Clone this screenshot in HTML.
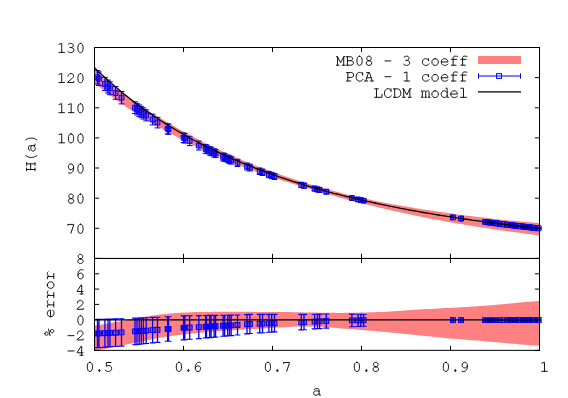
<!DOCTYPE html>
<html><head><meta charset="utf-8"><title>plot</title>
<style>
html,body{margin:0;padding:0;background:#fff;}
svg{display:block;}
</style></head>
<body>
<svg width="568" height="398" viewBox="0 0 568 398">
<rect width="568" height="398" fill="#fff"/>
<defs>
<clipPath id="cu"><rect x="94.5" y="47.5" width="445.0" height="210.95"/></clipPath>
<clipPath id="cl"><rect x="94.5" y="258.45" width="445.0" height="91.90000000000003"/></clipPath>
<path id="g37" d="M3.23,-9.00C2.29,-9.00 1.54,-8.25 1.54,-7.32C1.54,-6.39 2.29,-5.64 3.23,-5.64C4.16,-5.64 4.91,-6.39 4.91,-7.32C4.91,-8.25 4.16,-9.00 3.23,-9.00ZM5.77,-3.38C4.84,-3.38 4.09,-2.62 4.09,-1.69C4.09,-0.77 4.84,-0.01 5.77,-0.01C6.71,-0.01 7.46,-0.77 7.46,-1.69C7.46,-2.62 6.71,-3.38 5.77,-3.38ZM1.20,-3.75L7.80,-5.25"/><path id="g40" d="M6.15,-9.38C4.88,-7.80 4.27,-6.00 4.27,-3.75C4.27,-1.50 4.88,0.30 6.15,1.88"/><path id="g41" d="M2.85,-9.38C4.12,-7.80 4.72,-6.00 4.72,-3.75C4.72,-1.50 4.12,0.30 2.85,1.88"/><path id="g45" d="M1.50,-4.27H7.50"/><path id="g46" d="M4.50,-1.43C4.05,-1.43 3.67,-1.05 3.67,-0.60C3.67,-0.15 4.05,0.22 4.50,0.22C4.95,0.22 5.33,-0.15 5.33,-0.60C5.33,-1.05 4.95,-1.43 4.50,-1.43ZM4.50,-0.53V-0.67"/><path id="g48" d="M4.50,-9.05C2.62,-9.05 1.88,-6.98 1.88,-4.42C1.88,-1.86 2.62,0.22 4.50,0.22C6.38,0.22 7.12,-1.86 7.12,-4.42C7.12,-6.98 6.38,-9.05 4.50,-9.05Z"/><path id="g49" d="M1.88,0H7.42M4.65,0V-9.05L1.95,-8.18"/><path id="g50" d="M1.43,-6.40C1.43,-7.93 2.70,-9.05 4.35,-9.05C5.92,-9.05 7.05,-8.00 7.05,-6.62C7.05,-5.53 6.38,-4.80 5.10,-3.71L1.12,-0.36V0H7.27V-0.95"/><path id="g51" d="M1.80,-8.22C2.55,-8.80 3.38,-9.05 4.27,-9.05C5.77,-9.05 6.83,-8.15 6.83,-6.91C6.83,-5.67 5.85,-4.87 4.35,-4.87H3.38M4.35,-4.87C6.00,-4.87 7.35,-3.93 7.35,-2.40C7.35,-0.80 6.00,0.22 4.20,0.22C3.07,0.22 2.10,-0.22 1.35,-0.95"/><path id="g52" d="M5.70,0V-9.05H5.17L1.20,-2.84V-2.47H7.05M3.97,0H7.05"/><path id="g53" d="M6.75,-8.79H2.10V-4.95C2.92,-5.60 3.75,-5.82 4.58,-5.82C6.22,-5.82 7.35,-4.58 7.35,-2.91C7.35,-1.09 6.00,0.22 4.20,0.22C3.00,0.22 1.95,-0.22 1.12,-1.02"/><path id="g54" d="M7.20,-8.73C6.60,-8.95 6.00,-9.05 5.47,-9.05C3.38,-9.05 1.95,-6.98 1.95,-3.71C1.95,-1.31 3.00,0.22 4.65,0.22C6.15,0.22 7.27,-1.02 7.27,-2.69C7.27,-4.37 6.15,-5.53 4.65,-5.53C3.30,-5.53 2.25,-4.58 1.95,-3.27"/><path id="g55" d="M1.27,-7.78V-8.79H7.12V-8.29L4.42,0"/><path id="g56" d="M4.50,-4.51C3.07,-4.51 2.25,-5.53 2.25,-6.77C2.25,-8.08 3.15,-9.05 4.50,-9.05C5.85,-9.05 6.75,-8.08 6.75,-6.77C6.75,-5.53 5.92,-4.51 4.50,-4.51C2.92,-4.51 1.77,-3.49 1.77,-2.18C1.77,-0.80 2.92,0.22 4.50,0.22C6.08,0.22 7.23,-0.80 7.23,-2.18C7.23,-3.49 6.08,-4.51 4.50,-4.51Z"/><path id="g57" d="M1.88,-0.12C2.48,0.12 3.07,0.22 3.60,0.22C5.70,0.22 7.12,-1.82 7.12,-5.09C7.12,-7.57 6.08,-9.05 4.42,-9.05C2.92,-9.05 1.80,-7.86 1.80,-6.18C1.80,-4.51 2.92,-3.35 4.42,-3.35C5.77,-3.35 6.83,-4.29 7.12,-5.60"/><path id="g65" d="M0.15,0H3.23M5.77,0H8.85M1.20,0L4.05,-8.45M2.25,-8.45H5.02L7.83,0M2.28,-3.23H6.75"/><path id="g66" d="M0.60,-8.45H4.72C6.15,-8.45 6.97,-7.65 6.97,-6.52C6.97,-5.33 6.08,-4.50 4.72,-4.50H1.88M0.60,0H5.17C6.83,0 7.88,-0.90 7.88,-2.25C7.88,-3.60 6.83,-4.50 5.17,-4.50M1.88,-8.45V0"/><path id="g67" d="M7.57,-5.77V-8.45M7.57,-7.05C6.83,-8.10 5.85,-8.67 4.72,-8.67C2.55,-8.67 1.02,-6.75 1.02,-4.23C1.02,-1.65 2.55,0.22 4.80,0.22C6.15,0.22 7.20,-0.38 8.03,-1.57"/><path id="g68" d="M0.60,-8.45H4.50C6.60,-8.45 8.03,-6.75 8.03,-4.27C8.03,-1.72 6.60,0 4.50,0H0.60M1.88,-8.45V0"/><path id="g72" d="M0.45,-8.45H3.23M5.77,-8.45H8.55M0.45,0H3.23M5.77,0H8.55M1.68,-8.45V0M7.32,-8.45V0M1.68,-4.35H7.32"/><path id="g76" d="M0.67,-8.45H4.42M2.55,-8.45V0M0.67,0H8.03V-3.07"/><path id="g77" d="M0.22,0H3.00M6.00,0H8.78M0.22,-8.45H1.43V0M1.43,-8.45L4.50,-2.40L7.57,-8.45M8.78,-8.45H7.57V0"/><path id="g80" d="M0.97,-8.45H5.17C6.97,-8.45 8.03,-7.42 8.03,-6.00C8.03,-4.58 6.97,-3.52 5.17,-3.52H2.25M2.25,-8.45V0M0.97,0H5.10"/><path id="g97" d="M1.88,-5.62C2.77,-6.22 3.67,-6.55 4.50,-6.55C5.92,-6.55 6.67,-5.85 6.67,-4.65V0H8.17M6.67,-3.67C5.92,-4.02 5.02,-4.20 4.12,-4.20C2.25,-4.20 1.17,-3.30 1.17,-1.95C1.17,-0.67 2.25,0.22 3.60,0.22C4.80,0.22 5.92,-0.30 6.67,-1.27"/><path id="g99" d="M7.35,-4.35V-6.39M7.35,-5.02C6.60,-6.00 5.70,-6.55 4.65,-6.55C2.70,-6.55 1.27,-5.10 1.27,-3.15C1.27,-1.20 2.70,0.22 4.72,0.22C6.00,0.22 7.05,-0.30 7.88,-1.35"/><path id="g100" d="M5.77,-9.06H7.08V0H8.55M7.08,-4.50C6.63,-5.77 5.58,-6.55 4.30,-6.55C2.50,-6.55 1.12,-5.10 1.12,-3.15C1.12,-1.20 2.50,0.22 4.30,0.22C5.58,0.22 6.63,-0.60 7.08,-1.88"/><path id="g101" d="M1.20,-3.23H7.83C7.83,-5.17 6.45,-6.55 4.58,-6.55C2.62,-6.55 1.20,-5.10 1.20,-3.15C1.20,-1.20 2.62,0.22 4.65,0.22C6.00,0.22 7.05,-0.22 7.88,-1.12"/><path id="g102" d="M1.88,0H6.45M3.60,0V-7.20C3.60,-8.40 4.35,-9.06 5.55,-9.06C6.38,-9.06 7.12,-8.97 7.88,-8.82M1.88,-5.85H7.20"/><path id="g108" d="M1.88,-9.06H4.50V0M1.43,0H7.57"/><path id="g109" d="M0.15,-6.39H1.12V0M0.15,0H1.95M1.12,-5.17C1.50,-6.00 2.17,-6.55 2.92,-6.55C3.97,-6.55 4.50,-5.92 4.50,-4.80V0M3.67,0H5.33M4.50,-5.17C4.88,-6.00 5.55,-6.55 6.30,-6.55C7.35,-6.55 7.90,-5.92 7.90,-4.80V0M7.08,0H8.85"/><path id="g111" d="M4.50,-6.55C2.62,-6.55 1.23,-5.10 1.23,-3.17C1.23,-1.23 2.62,0.22 4.50,0.22C6.38,0.22 7.77,-1.23 7.77,-3.17C7.77,-5.10 6.38,-6.55 4.50,-6.55Z"/><path id="g114" d="M1.43,-6.39H3.60V0M1.43,0H6.67M3.60,-4.50C4.42,-5.85 5.47,-6.55 6.67,-6.55C7.42,-6.55 8.03,-6.22 8.32,-5.70"/>
</defs>
<!-- ticks (behind data) -->
<path d="M94.5,350.4v-4.6M94.5,258.4v4.6M94.5,258.4v-4.6M94.5,47.5v4.6M183.5,350.4v-4.6M183.5,258.4v4.6M183.5,258.4v-4.6M183.5,47.5v4.6M272.5,350.4v-4.6M272.5,258.4v4.6M272.5,258.4v-4.6M272.5,47.5v4.6M361.5,350.4v-4.6M361.5,258.4v4.6M361.5,258.4v-4.6M361.5,47.5v4.6M450.5,350.4v-4.6M450.5,258.4v4.6M450.5,258.4v-4.6M450.5,47.5v4.6M539.5,350.4v-4.6M539.5,258.4v4.6M539.5,258.4v-4.6M539.5,47.5v4.6M94.5,228.3h4.6M539.5,228.3h-4.6M94.5,198.2h4.6M539.5,198.2h-4.6M94.5,168.0h4.6M539.5,168.0h-4.6M94.5,137.9h4.6M539.5,137.9h-4.6M94.5,107.8h4.6M539.5,107.8h-4.6M94.5,77.6h4.6M539.5,77.6h-4.6M94.5,47.5h4.6M539.5,47.5h-4.6M94.5,350.4h4.6M539.5,350.4h-4.6M94.5,335.0h4.6M539.5,335.0h-4.6M94.5,319.7h4.6M539.5,319.7h-4.6M94.5,304.4h4.6M539.5,304.4h-4.6M94.5,289.1h4.6M539.5,289.1h-4.6M94.5,273.8h4.6M539.5,273.8h-4.6M94.5,258.4h4.6M539.5,258.4h-4.6" stroke="#000" stroke-width="1" fill="none"/>
<!-- upper panel -->
<path d="M94.5,70.6 L98.2,74.0 L102.0,77.2 L105.7,80.3 L109.5,83.4 L113.2,86.3 L116.9,89.1 L120.7,91.9 L124.4,94.6 L128.2,97.3 L131.9,99.9 L135.6,102.4 L139.4,104.9 L143.1,107.4 L146.9,109.8 L150.6,112.1 L154.3,114.4 L158.1,116.7 L161.8,119.0 L165.6,121.2 L169.3,123.4 L173.0,125.6 L176.8,127.7 L180.5,129.9 L184.2,131.9 L188.0,134.0 L191.7,136.0 L195.5,138.0 L199.2,140.0 L202.9,141.9 L206.7,143.8 L210.4,145.6 L214.2,147.5 L217.9,149.3 L221.6,151.0 L225.4,152.7 L229.1,154.4 L232.9,156.1 L236.6,157.7 L240.3,159.3 L244.1,160.9 L247.8,162.4 L251.6,163.9 L255.3,165.4 L259.0,166.9 L262.8,168.3 L266.5,169.7 L270.3,171.1 L274.0,172.4 L277.7,173.7 L281.5,175.0 L285.2,176.3 L289.0,177.6 L292.7,178.8 L296.4,180.0 L300.2,181.2 L303.9,182.4 L307.7,183.6 L311.4,184.7 L315.1,185.8 L318.9,186.9 L322.6,188.0 L326.3,189.0 L330.1,190.1 L333.8,191.1 L337.6,192.0 L341.3,193.0 L345.0,193.9 L348.8,194.9 L352.5,195.8 L356.3,196.6 L360.0,197.5 L363.7,198.3 L367.5,199.1 L371.2,199.9 L375.0,200.7 L378.7,201.5 L382.4,202.2 L386.2,203.0 L389.9,203.7 L393.7,204.4 L397.4,205.0 L401.1,205.7 L404.9,206.3 L408.6,207.0 L412.4,207.6 L416.1,208.2 L419.8,208.8 L423.6,209.4 L427.3,210.0 L431.1,210.5 L434.8,211.1 L438.5,211.7 L442.3,212.2 L446.0,212.8 L449.8,213.3 L453.5,213.8 L457.2,214.4 L461.0,214.9 L464.7,215.4 L468.4,215.8 L472.2,216.3 L475.9,216.8 L479.7,217.2 L483.4,217.6 L487.1,218.1 L490.9,218.5 L494.6,218.9 L498.4,219.3 L502.1,219.7 L505.8,220.0 L509.6,220.4 L513.3,220.8 L517.1,221.1 L520.8,221.4 L524.5,221.8 L528.3,222.1 L532.0,222.4 L535.8,222.8 L539.5,223.1 L539.5,235.5 L535.8,235.1 L532.0,234.6 L528.3,234.1 L524.5,233.6 L520.8,233.1 L517.1,232.6 L513.3,232.1 L509.6,231.6 L505.8,231.0 L502.1,230.5 L498.4,229.9 L494.6,229.4 L490.9,228.8 L487.1,228.3 L483.4,227.7 L479.7,227.1 L475.9,226.5 L472.2,225.9 L468.4,225.3 L464.7,224.7 L461.0,224.1 L457.2,223.5 L453.5,222.8 L449.8,222.2 L446.0,221.5 L442.3,220.8 L438.5,220.1 L434.8,219.4 L431.1,218.7 L427.3,218.0 L423.6,217.2 L419.8,216.5 L416.1,215.7 L412.4,214.9 L408.6,214.1 L404.9,213.3 L401.1,212.5 L397.4,211.7 L393.7,210.9 L389.9,210.0 L386.2,209.2 L382.4,208.3 L378.7,207.4 L375.0,206.5 L371.2,205.6 L367.5,204.7 L363.7,203.8 L360.0,202.9 L356.3,201.9 L352.5,201.0 L348.8,200.0 L345.0,199.0 L341.3,197.9 L337.6,196.9 L333.8,195.8 L330.1,194.8 L326.3,193.7 L322.6,192.6 L318.9,191.5 L315.1,190.4 L311.4,189.3 L307.7,188.2 L303.9,187.1 L300.2,186.0 L296.4,184.9 L292.7,183.7 L289.0,182.6 L285.2,181.4 L281.5,180.3 L277.7,179.1 L274.0,177.9 L270.3,176.6 L266.5,175.4 L262.8,174.1 L259.0,172.8 L255.3,171.4 L251.6,170.1 L247.8,168.7 L244.1,167.3 L240.3,165.8 L236.6,164.4 L232.9,162.9 L229.1,161.3 L225.4,159.8 L221.6,158.2 L217.9,156.5 L214.2,154.9 L210.4,153.2 L206.7,151.5 L202.9,149.8 L199.2,148.0 L195.5,146.2 L191.7,144.4 L188.0,142.5 L184.2,140.6 L180.5,138.7 L176.8,136.7 L173.0,134.7 L169.3,132.7 L165.6,130.7 L161.8,128.6 L158.1,126.5 L154.3,124.4 L150.6,122.2 L146.9,120.0 L143.1,117.7 L139.4,115.4 L135.6,113.1 L131.9,110.7 L128.2,108.2 L124.4,105.6 L120.7,103.0 L116.9,100.4 L113.2,97.7 L109.5,94.9 L105.7,92.1 L102.0,89.1 L98.2,86.1 L94.5,82.9Z" fill="#ff8080" clip-path="url(#cu)"/>
<g stroke="#0000ff" fill="none">
<path d="M97.5,70.6V84.1M99.0,72.0V85.5M104.9,77.4V90.5M108.0,80.1V93.1M109.9,81.8V94.7M115.6,86.6V99.3M121.5,91.5V103.9M135.0,101.8V113.5M137.0,103.3V114.9M139.2,104.9V116.4M141.3,106.4V117.7M143.4,107.9V119.1M146.2,109.8V120.9M152.6,114.2V124.9M157.5,117.4V127.9M167.6,123.7V133.8M168.5,124.2V134.3M183.6,132.9V142.5M184.8,133.6V143.1M189.7,136.3V145.6M198.8,141.1V150.0M205.6,144.6V153.2M206.5,145.1V153.6M209.6,146.6V155.0M211.1,147.3V155.7M214.1,148.8V157.0M215.6,149.5V157.6M223.1,153.0V160.8M224.6,153.6V161.4M227.7,155.0V162.7M229.5,155.8V163.4M231.2,156.6V164.1M237.5,159.3V166.5M247.0,163.1V170.0M249.9,164.2V171.0M259.7,168.0V174.5M262.5,169.1V175.5M268.9,171.4V177.6M271.7,172.4V178.6M274.5,173.4V179.5M301.3,182.3V187.4M304.0,183.1V188.2M314.6,186.2V191.0M317.5,187.0V191.8M319.6,187.6V192.3M326.3,189.4V194.0M351.9,196.0V200.0M358.0,197.5V201.4M360.8,198.2V202.0M363.6,198.9V202.5M453.0,217.2V217.5M461.0,218.5V218.7M485.0,221.8V222.0M486.4,222.0V222.2M487.8,222.2V222.3M489.1,222.4V222.5M490.5,222.6V222.7M491.9,222.8V222.9M493.3,222.9V223.0M494.6,223.1V223.2M496.0,223.3V223.4M497.4,223.5V223.6M498.8,223.6V223.7M500.1,223.8V223.9M501.5,224.0V224.1M502.9,224.2V224.2M504.3,224.3V224.4M505.7,224.5V224.6M507.0,224.7V224.7M508.4,224.8V224.9M509.8,225.0V225.1M511.2,225.2V225.2M512.5,225.3V225.4M513.9,225.5V225.6M515.3,225.7V225.7M516.7,225.8V225.9M518.0,226.0V226.0M519.4,226.2V226.2M520.8,226.3V226.4M522.2,226.5V226.5M523.6,226.6V226.7M524.9,226.8V226.8M526.3,226.9V227.0M527.7,227.1V227.1M529.1,227.3V227.3M530.4,227.4V227.4M531.8,227.6V227.6M533.2,227.7V227.7M534.6,227.9V227.9M535.9,228.0V228.0M537.3,228.2V228.2M538.7,228.3V228.3" stroke-width="1.15"/>
<path d="M94.6,70.6h5.8M94.6,84.1h5.8M96.1,72.0h5.8M96.1,85.5h5.8M102.0,77.4h5.8M102.0,90.5h5.8M105.1,80.1h5.8M105.1,93.1h5.8M107.0,81.8h5.8M107.0,94.7h5.8M112.7,86.6h5.8M112.7,99.3h5.8M118.6,91.5h5.8M118.6,103.9h5.8M132.1,101.8h5.8M132.1,113.5h5.8M134.1,103.3h5.8M134.1,114.9h5.8M136.3,104.9h5.8M136.3,116.4h5.8M138.4,106.4h5.8M138.4,117.7h5.8M140.5,107.9h5.8M140.5,119.1h5.8M143.3,109.8h5.8M143.3,120.9h5.8M149.7,114.2h5.8M149.7,124.9h5.8M154.6,117.4h5.8M154.6,127.9h5.8M164.7,123.7h5.8M164.7,133.8h5.8M165.6,124.2h5.8M165.6,134.3h5.8M180.7,132.9h5.8M180.7,142.5h5.8M181.9,133.6h5.8M181.9,143.1h5.8M186.8,136.3h5.8M186.8,145.6h5.8M195.9,141.1h5.8M195.9,150.0h5.8M202.7,144.6h5.8M202.7,153.2h5.8M203.6,145.1h5.8M203.6,153.6h5.8M206.7,146.6h5.8M206.7,155.0h5.8M208.2,147.3h5.8M208.2,155.7h5.8M211.2,148.8h5.8M211.2,157.0h5.8M212.7,149.5h5.8M212.7,157.6h5.8M220.2,153.0h5.8M220.2,160.8h5.8M221.7,153.6h5.8M221.7,161.4h5.8M224.8,155.0h5.8M224.8,162.7h5.8M226.6,155.8h5.8M226.6,163.4h5.8M228.3,156.6h5.8M228.3,164.1h5.8M234.6,159.3h5.8M234.6,166.5h5.8M244.1,163.1h5.8M244.1,170.0h5.8M247.0,164.2h5.8M247.0,171.0h5.8M256.8,168.0h5.8M256.8,174.5h5.8M259.6,169.1h5.8M259.6,175.5h5.8M266.0,171.4h5.8M266.0,177.6h5.8M268.8,172.4h5.8M268.8,178.6h5.8M271.6,173.4h5.8M271.6,179.5h5.8M298.4,182.3h5.8M298.4,187.4h5.8M301.1,183.1h5.8M301.1,188.2h5.8M311.7,186.2h5.8M311.7,191.0h5.8M314.6,187.0h5.8M314.6,191.8h5.8M316.7,187.6h5.8M316.7,192.3h5.8M323.4,189.4h5.8M323.4,194.0h5.8M349.0,196.0h5.8M349.0,200.0h5.8M355.1,197.5h5.8M355.1,201.4h5.8M357.9,198.2h5.8M357.9,202.0h5.8M360.7,198.9h5.8M360.7,202.5h5.8M450.1,217.2h5.8M450.1,217.5h5.8M458.1,218.5h5.8M458.1,218.7h5.8M482.1,221.8h5.8M482.1,222.0h5.8M483.5,222.0h5.8M483.5,222.2h5.8M484.9,222.2h5.8M484.9,222.3h5.8M486.2,222.4h5.8M486.2,222.5h5.8M487.6,222.6h5.8M487.6,222.7h5.8M489.0,222.8h5.8M489.0,222.9h5.8M490.4,222.9h5.8M490.4,223.0h5.8M491.7,223.1h5.8M491.7,223.2h5.8M493.1,223.3h5.8M493.1,223.4h5.8M494.5,223.5h5.8M494.5,223.6h5.8M495.9,223.6h5.8M495.9,223.7h5.8M497.2,223.8h5.8M497.2,223.9h5.8M498.6,224.0h5.8M498.6,224.1h5.8M500.0,224.2h5.8M500.0,224.2h5.8M501.4,224.3h5.8M501.4,224.4h5.8M502.8,224.5h5.8M502.8,224.6h5.8M504.1,224.7h5.8M504.1,224.7h5.8M505.5,224.8h5.8M505.5,224.9h5.8M506.9,225.0h5.8M506.9,225.1h5.8M508.3,225.2h5.8M508.3,225.2h5.8M509.6,225.3h5.8M509.6,225.4h5.8M511.0,225.5h5.8M511.0,225.6h5.8M512.4,225.7h5.8M512.4,225.7h5.8M513.8,225.8h5.8M513.8,225.9h5.8M515.1,226.0h5.8M515.1,226.0h5.8M516.5,226.2h5.8M516.5,226.2h5.8M517.9,226.3h5.8M517.9,226.4h5.8M519.3,226.5h5.8M519.3,226.5h5.8M520.7,226.6h5.8M520.7,226.7h5.8M522.0,226.8h5.8M522.0,226.8h5.8M523.4,226.9h5.8M523.4,227.0h5.8M524.8,227.1h5.8M524.8,227.1h5.8M526.2,227.3h5.8M526.2,227.3h5.8M527.5,227.4h5.8M527.5,227.4h5.8M528.9,227.6h5.8M528.9,227.6h5.8M530.3,227.7h5.8M530.3,227.7h5.8M531.7,227.9h5.8M531.7,227.9h5.8M533.0,228.0h5.8M533.0,228.0h5.8M534.4,228.2h5.8M534.4,228.2h5.8M535.8,228.3h5.8M535.8,228.3h5.8" stroke-width="1"/>
<path d="M95.1,75.0h4.8v4.8h-4.8zM96.6,76.3h4.8v4.8h-4.8zM102.5,81.6h4.8v4.8h-4.8zM105.6,84.2h4.8v4.8h-4.8zM107.5,85.8h4.8v4.8h-4.8zM113.2,90.6h4.8v4.8h-4.8zM119.1,95.3h4.8v4.8h-4.8zM132.6,105.3h4.8v4.8h-4.8zM134.6,106.7h4.8v4.8h-4.8zM136.8,108.2h4.8v4.8h-4.8zM138.9,109.7h4.8v4.8h-4.8zM141.0,111.1h4.8v4.8h-4.8zM143.8,113.0h4.8v4.8h-4.8zM150.2,117.1h4.8v4.8h-4.8zM155.1,120.2h4.8v4.8h-4.8zM165.2,126.3h4.8v4.8h-4.8zM166.1,126.9h4.8v4.8h-4.8zM181.2,135.3h4.8v4.8h-4.8zM182.4,135.9h4.8v4.8h-4.8zM187.3,138.5h4.8v4.8h-4.8zM196.4,143.2h4.8v4.8h-4.8zM203.2,146.5h4.8v4.8h-4.8zM204.1,146.9h4.8v4.8h-4.8zM207.2,148.4h4.8v4.8h-4.8zM208.7,149.1h4.8v4.8h-4.8zM211.7,150.5h4.8v4.8h-4.8zM213.2,151.2h4.8v4.8h-4.8zM220.7,154.5h4.8v4.8h-4.8zM222.2,155.1h4.8v4.8h-4.8zM225.3,156.5h4.8v4.8h-4.8zM227.1,157.2h4.8v4.8h-4.8zM228.8,157.9h4.8v4.8h-4.8zM235.1,160.5h4.8v4.8h-4.8zM244.6,164.1h4.8v4.8h-4.8zM247.5,165.2h4.8v4.8h-4.8zM257.3,168.9h4.8v4.8h-4.8zM260.1,169.9h4.8v4.8h-4.8zM266.5,172.1h4.8v4.8h-4.8zM269.3,173.1h4.8v4.8h-4.8zM272.1,174.0h4.8v4.8h-4.8zM298.9,182.5h4.8v4.8h-4.8zM301.6,183.3h4.8v4.8h-4.8zM312.2,186.2h4.8v4.8h-4.8zM315.1,187.0h4.8v4.8h-4.8zM317.2,187.5h4.8v4.8h-4.8zM323.9,189.3h4.8v4.8h-4.8zM349.5,195.6h4.8v4.8h-4.8zM355.6,197.0h4.8v4.8h-4.8zM358.4,197.7h4.8v4.8h-4.8zM361.2,198.3h4.8v4.8h-4.8zM450.6,215.0h4.8v4.8h-4.8zM458.6,216.2h4.8v4.8h-4.8zM482.6,219.5h4.8v4.8h-4.8zM484.0,219.7h4.8v4.8h-4.8zM485.4,219.9h4.8v4.8h-4.8zM486.7,220.1h4.8v4.8h-4.8zM488.1,220.2h4.8v4.8h-4.8zM489.5,220.4h4.8v4.8h-4.8zM490.9,220.6h4.8v4.8h-4.8zM492.2,220.8h4.8v4.8h-4.8zM493.6,220.9h4.8v4.8h-4.8zM495.0,221.1h4.8v4.8h-4.8zM496.4,221.3h4.8v4.8h-4.8zM497.7,221.5h4.8v4.8h-4.8zM499.1,221.6h4.8v4.8h-4.8zM500.5,221.8h4.8v4.8h-4.8zM501.9,222.0h4.8v4.8h-4.8zM503.3,222.1h4.8v4.8h-4.8zM504.6,222.3h4.8v4.8h-4.8zM506.0,222.5h4.8v4.8h-4.8zM507.4,222.6h4.8v4.8h-4.8zM508.8,222.8h4.8v4.8h-4.8zM510.1,223.0h4.8v4.8h-4.8zM511.5,223.1h4.8v4.8h-4.8zM512.9,223.3h4.8v4.8h-4.8zM514.3,223.5h4.8v4.8h-4.8zM515.6,223.6h4.8v4.8h-4.8zM517.0,223.8h4.8v4.8h-4.8zM518.4,223.9h4.8v4.8h-4.8zM519.8,224.1h4.8v4.8h-4.8zM521.2,224.2h4.8v4.8h-4.8zM522.5,224.4h4.8v4.8h-4.8zM523.9,224.6h4.8v4.8h-4.8zM525.3,224.7h4.8v4.8h-4.8zM526.7,224.9h4.8v4.8h-4.8zM528.0,225.0h4.8v4.8h-4.8zM529.4,225.2h4.8v4.8h-4.8zM530.8,225.3h4.8v4.8h-4.8zM532.2,225.5h4.8v4.8h-4.8zM533.5,225.6h4.8v4.8h-4.8zM534.9,225.8h4.8v4.8h-4.8zM536.3,225.9h4.8v4.8h-4.8z" stroke-width="1"/>
<g stroke="none" fill="#0000ff" fill-opacity="0.3"><rect x="95.1" y="75.0" width="4.8" height="4.8"/><rect x="96.6" y="76.3" width="4.8" height="4.8"/><rect x="102.5" y="81.6" width="4.8" height="4.8"/><rect x="105.6" y="84.2" width="4.8" height="4.8"/><rect x="107.5" y="85.8" width="4.8" height="4.8"/><rect x="113.2" y="90.6" width="4.8" height="4.8"/><rect x="119.1" y="95.3" width="4.8" height="4.8"/><rect x="132.6" y="105.3" width="4.8" height="4.8"/><rect x="134.6" y="106.7" width="4.8" height="4.8"/><rect x="136.8" y="108.2" width="4.8" height="4.8"/><rect x="138.9" y="109.7" width="4.8" height="4.8"/><rect x="141.0" y="111.1" width="4.8" height="4.8"/><rect x="143.8" y="113.0" width="4.8" height="4.8"/><rect x="150.2" y="117.1" width="4.8" height="4.8"/><rect x="155.1" y="120.2" width="4.8" height="4.8"/><rect x="165.2" y="126.3" width="4.8" height="4.8"/><rect x="166.1" y="126.9" width="4.8" height="4.8"/><rect x="181.2" y="135.3" width="4.8" height="4.8"/><rect x="182.4" y="135.9" width="4.8" height="4.8"/><rect x="187.3" y="138.5" width="4.8" height="4.8"/><rect x="196.4" y="143.2" width="4.8" height="4.8"/><rect x="203.2" y="146.5" width="4.8" height="4.8"/><rect x="204.1" y="146.9" width="4.8" height="4.8"/><rect x="207.2" y="148.4" width="4.8" height="4.8"/><rect x="208.7" y="149.1" width="4.8" height="4.8"/><rect x="211.7" y="150.5" width="4.8" height="4.8"/><rect x="213.2" y="151.2" width="4.8" height="4.8"/><rect x="220.7" y="154.5" width="4.8" height="4.8"/><rect x="222.2" y="155.1" width="4.8" height="4.8"/><rect x="225.3" y="156.5" width="4.8" height="4.8"/><rect x="227.1" y="157.2" width="4.8" height="4.8"/><rect x="228.8" y="157.9" width="4.8" height="4.8"/><rect x="235.1" y="160.5" width="4.8" height="4.8"/><rect x="244.6" y="164.1" width="4.8" height="4.8"/><rect x="247.5" y="165.2" width="4.8" height="4.8"/><rect x="257.3" y="168.9" width="4.8" height="4.8"/><rect x="260.1" y="169.9" width="4.8" height="4.8"/><rect x="266.5" y="172.1" width="4.8" height="4.8"/><rect x="269.3" y="173.1" width="4.8" height="4.8"/><rect x="272.1" y="174.0" width="4.8" height="4.8"/><rect x="298.9" y="182.5" width="4.8" height="4.8"/><rect x="301.6" y="183.3" width="4.8" height="4.8"/><rect x="312.2" y="186.2" width="4.8" height="4.8"/><rect x="315.1" y="187.0" width="4.8" height="4.8"/><rect x="317.2" y="187.5" width="4.8" height="4.8"/><rect x="323.9" y="189.3" width="4.8" height="4.8"/><rect x="349.5" y="195.6" width="4.8" height="4.8"/><rect x="355.6" y="197.0" width="4.8" height="4.8"/><rect x="358.4" y="197.7" width="4.8" height="4.8"/><rect x="361.2" y="198.3" width="4.8" height="4.8"/><rect x="450.6" y="215.0" width="4.8" height="4.8"/><rect x="458.6" y="216.2" width="4.8" height="4.8"/><rect x="482.6" y="219.5" width="4.8" height="4.8"/><rect x="484.0" y="219.7" width="4.8" height="4.8"/><rect x="485.4" y="219.9" width="4.8" height="4.8"/><rect x="486.7" y="220.1" width="4.8" height="4.8"/><rect x="488.1" y="220.2" width="4.8" height="4.8"/><rect x="489.5" y="220.4" width="4.8" height="4.8"/><rect x="490.9" y="220.6" width="4.8" height="4.8"/><rect x="492.2" y="220.8" width="4.8" height="4.8"/><rect x="493.6" y="220.9" width="4.8" height="4.8"/><rect x="495.0" y="221.1" width="4.8" height="4.8"/><rect x="496.4" y="221.3" width="4.8" height="4.8"/><rect x="497.7" y="221.5" width="4.8" height="4.8"/><rect x="499.1" y="221.6" width="4.8" height="4.8"/><rect x="500.5" y="221.8" width="4.8" height="4.8"/><rect x="501.9" y="222.0" width="4.8" height="4.8"/><rect x="503.3" y="222.1" width="4.8" height="4.8"/><rect x="504.6" y="222.3" width="4.8" height="4.8"/><rect x="506.0" y="222.5" width="4.8" height="4.8"/><rect x="507.4" y="222.6" width="4.8" height="4.8"/><rect x="508.8" y="222.8" width="4.8" height="4.8"/><rect x="510.1" y="223.0" width="4.8" height="4.8"/><rect x="511.5" y="223.1" width="4.8" height="4.8"/><rect x="512.9" y="223.3" width="4.8" height="4.8"/><rect x="514.3" y="223.5" width="4.8" height="4.8"/><rect x="515.6" y="223.6" width="4.8" height="4.8"/><rect x="517.0" y="223.8" width="4.8" height="4.8"/><rect x="518.4" y="223.9" width="4.8" height="4.8"/><rect x="519.8" y="224.1" width="4.8" height="4.8"/><rect x="521.2" y="224.2" width="4.8" height="4.8"/><rect x="522.5" y="224.4" width="4.8" height="4.8"/><rect x="523.9" y="224.6" width="4.8" height="4.8"/><rect x="525.3" y="224.7" width="4.8" height="4.8"/><rect x="526.7" y="224.9" width="4.8" height="4.8"/><rect x="528.0" y="225.0" width="4.8" height="4.8"/><rect x="529.4" y="225.2" width="4.8" height="4.8"/><rect x="530.8" y="225.3" width="4.8" height="4.8"/><rect x="532.2" y="225.5" width="4.8" height="4.8"/><rect x="533.5" y="225.6" width="4.8" height="4.8"/><rect x="534.9" y="225.8" width="4.8" height="4.8"/><rect x="536.3" y="225.9" width="4.8" height="4.8"/></g>
<path d="M450.6,215.0H453.3V219.8H450.6zM460.3,216.2H463.4V221.0H460.3z" stroke-width="1" fill="#0000ff" fill-opacity="0.35"/>
</g>
<path d="M495.6,221.3h0.9v1h-0.9zM495.6,224.3h0.9v1h-0.9zM499.2,221.8h0.9v1h-0.9zM499.2,224.8h0.9v1h-0.9zM502.2,222.2h0.9v1h-0.9zM502.2,225.2h0.9v1h-0.9zM503.2,222.3h0.9v1h-0.9zM503.2,225.3h0.9v1h-0.9zM506.2,222.7h0.9v1h-0.9zM506.2,225.7h0.9v1h-0.9zM518.8,224.2h0.9v1h-0.9zM518.8,227.2h0.9v1h-0.9zM533.2,225.8h0.9v1h-0.9zM533.2,228.8h0.9v1h-0.9zM538.0,226.3h0.9v1h-0.9zM538.0,229.3h0.9v1h-0.9z" fill="#ff8a70" fill-opacity="0.85"/>
<path d="M483.5,221.8 L488.5,222.4 L493.6,223.1 L498.6,223.7 L503.7,224.4 L508.7,225.0 L513.8,225.6 L518.8,226.2 L523.9,226.7 L528.9,227.3 L534.0,227.9 L539.0,228.4" fill="none" stroke="#000" stroke-width="3" stroke-opacity="0.25"/>
<path d="M94.5,67.8 L98.2,71.4 L102.0,74.9 L105.7,78.3 L109.5,81.7 L113.2,84.9 L116.9,88.1 L120.7,91.2 L124.4,94.3 L128.2,97.3 L131.9,100.2 L135.6,103.0 L139.4,105.8 L143.1,108.5 L146.9,111.2 L150.6,113.8 L154.3,116.3 L158.1,118.8 L161.8,121.2 L165.6,123.6 L169.3,126.0 L173.0,128.2 L176.8,130.5 L180.5,132.7 L184.2,134.8 L188.0,136.9 L191.7,139.0 L195.5,141.0 L199.2,142.9 L202.9,144.9 L206.7,146.8 L210.4,148.6 L214.2,150.4 L217.9,152.2 L221.6,154.0 L225.4,155.7 L229.1,157.3 L232.9,159.0 L236.6,160.6 L240.3,162.2 L244.1,163.7 L247.8,165.2 L251.6,166.7 L255.3,168.2 L259.0,169.6 L262.8,171.0 L266.5,172.4 L270.3,173.8 L274.0,175.1 L277.7,176.4 L281.5,177.7 L285.2,178.9 L289.0,180.1 L292.7,181.4 L296.4,182.5 L300.2,183.7 L303.9,184.8 L307.7,186.0 L311.4,187.1 L315.1,188.1 L318.9,189.2 L322.6,190.2 L326.3,191.3 L330.1,192.3 L333.8,193.3 L337.6,194.2 L341.3,195.2 L345.0,196.1 L348.8,197.0 L352.5,197.9 L356.3,198.8 L360.0,199.7 L363.7,200.6 L367.5,201.4 L371.2,202.2 L375.0,203.0 L378.7,203.8 L382.4,204.6 L386.2,205.4 L389.9,206.2 L393.7,206.9 L397.4,207.6 L401.1,208.4 L404.9,209.1 L408.6,209.8 L412.4,210.5 L416.1,211.1 L419.8,211.8 L423.6,212.5 L427.3,213.1 L431.1,213.7 L434.8,214.4 L438.5,215.0 L442.3,215.6 L446.0,216.2 L449.8,216.7 L453.5,217.3 L457.2,217.9 L461.0,218.4 L464.7,219.0 L468.4,219.5 L472.2,220.1 L475.9,220.6 L479.7,221.1 L483.4,221.6 L487.1,222.1 L490.9,222.6 L494.6,223.1 L498.4,223.5 L502.1,224.0 L505.8,224.5 L509.6,224.9 L513.3,225.4 L517.1,225.8 L520.8,226.2 L524.5,226.7 L528.3,227.1 L532.0,227.5 L535.8,227.9 L539.5,228.3" fill="none" stroke="#000" stroke-width="1.35"/>
<!-- lower panel -->
<path d="M94.5,325.4 L98.2,325.0 L102.0,324.5 L105.7,324.0 L109.5,323.3 L113.2,322.6 L116.9,321.9 L120.7,321.2 L124.4,320.5 L128.2,319.8 L131.9,319.1 L135.6,318.4 L139.4,317.7 L143.1,317.1 L146.9,316.4 L150.6,315.8 L154.3,315.3 L158.1,314.8 L161.8,314.3 L165.6,313.9 L169.3,313.5 L173.0,313.2 L176.8,313.0 L180.5,312.7 L184.2,312.5 L188.0,312.4 L191.7,312.2 L195.5,312.1 L199.2,312.0 L202.9,312.0 L206.7,311.9 L210.4,311.9 L214.2,311.8 L217.9,311.8 L221.6,311.8 L225.4,311.8 L229.1,311.8 L232.9,311.8 L236.6,311.8 L240.3,311.8 L244.1,311.8 L247.8,311.8 L251.6,311.8 L255.3,311.9 L259.0,311.9 L262.8,311.9 L266.5,311.9 L270.3,311.9 L274.0,312.0 L277.7,312.0 L281.5,312.0 L285.2,312.1 L289.0,312.1 L292.7,312.2 L296.4,312.3 L300.2,312.3 L303.9,312.4 L307.7,312.5 L311.4,312.5 L315.1,312.6 L318.9,312.7 L322.6,312.7 L326.3,312.8 L330.1,312.8 L333.8,312.8 L337.6,312.9 L341.3,312.9 L345.0,312.8 L348.8,312.8 L352.5,312.8 L356.3,312.7 L360.0,312.6 L363.7,312.5 L367.5,312.4 L371.2,312.3 L375.0,312.2 L378.7,312.1 L382.4,311.9 L386.2,311.7 L389.9,311.5 L393.7,311.3 L397.4,311.1 L401.1,310.8 L404.9,310.6 L408.6,310.3 L412.4,310.0 L416.1,309.8 L419.8,309.5 L423.6,309.3 L427.3,309.1 L431.1,308.9 L434.8,308.7 L438.5,308.5 L442.3,308.3 L446.0,308.1 L449.8,307.9 L453.5,307.7 L457.2,307.5 L461.0,307.3 L464.7,307.1 L468.4,306.9 L472.2,306.6 L475.9,306.4 L479.7,306.1 L483.4,305.8 L487.1,305.5 L490.9,305.2 L494.6,304.9 L498.4,304.6 L502.1,304.2 L505.8,303.9 L509.6,303.6 L513.3,303.2 L517.1,302.8 L520.8,302.5 L524.5,302.1 L528.3,301.7 L532.0,301.4 L535.8,301.2 L539.5,300.9 L539.5,345.8 L535.8,345.6 L532.0,345.4 L528.3,345.1 L524.5,344.8 L520.8,344.4 L517.1,344.1 L513.3,343.8 L509.6,343.4 L505.8,343.1 L502.1,342.8 L498.4,342.5 L494.6,342.1 L490.9,341.8 L487.1,341.5 L483.4,341.2 L479.7,340.8 L475.9,340.5 L472.2,340.2 L468.4,339.9 L464.7,339.6 L461.0,339.3 L457.2,339.0 L453.5,338.7 L449.8,338.4 L446.0,338.0 L442.3,337.7 L438.5,337.3 L434.8,337.0 L431.1,336.6 L427.3,336.2 L423.6,335.8 L419.8,335.5 L416.1,335.1 L412.4,334.7 L408.6,334.3 L404.9,333.9 L401.1,333.5 L397.4,333.1 L393.7,332.7 L389.9,332.4 L386.2,332.0 L382.4,331.7 L378.7,331.4 L375.0,331.1 L371.2,330.8 L367.5,330.5 L363.7,330.2 L360.0,329.9 L356.3,329.6 L352.5,329.3 L348.8,329.0 L345.0,328.7 L341.3,328.4 L337.6,328.1 L333.8,327.7 L330.1,327.4 L326.3,327.1 L322.6,326.9 L318.9,326.7 L315.1,326.5 L311.4,326.4 L307.7,326.4 L303.9,326.4 L300.2,326.5 L296.4,326.6 L292.7,326.8 L289.0,327.0 L285.2,327.2 L281.5,327.4 L277.7,327.6 L274.0,327.8 L270.3,328.0 L266.5,328.2 L262.8,328.4 L259.0,328.7 L255.3,328.9 L251.6,329.1 L247.8,329.3 L244.1,329.6 L240.3,329.8 L236.6,330.1 L232.9,330.3 L229.1,330.5 L225.4,330.8 L221.6,331.0 L217.9,331.3 L214.2,331.5 L210.4,331.8 L206.7,332.1 L202.9,332.4 L199.2,332.8 L195.5,333.1 L191.7,333.5 L188.0,333.9 L184.2,334.3 L180.5,334.7 L176.8,335.2 L173.0,335.7 L169.3,336.2 L165.6,336.8 L161.8,337.4 L158.1,338.1 L154.3,338.8 L150.6,339.6 L146.9,340.3 L143.1,341.1 L139.4,341.9 L135.6,342.6 L131.9,343.4 L128.2,344.1 L124.4,344.9 L120.7,345.7 L116.9,346.4 L113.2,347.2 L109.5,348.0 L105.7,348.9 L102.0,349.6 L98.2,350.2 L94.5,350.7Z" fill="#ff8080" clip-path="url(#cl)"/>
<g stroke="#0000ff" fill="none">
<path d="M97.5,319.5V347.6M99.0,319.4V347.5M104.9,319.2V347.1M108.0,319.1V346.9M109.9,319.1V346.8M115.6,318.9V346.5M121.5,318.7V346.1M135.0,318.1V344.7M137.0,318.1V344.5M139.2,318.0V344.3M141.3,317.9V344.0M143.4,317.8V343.8M146.2,317.7V343.5M152.6,317.4V342.9M157.5,317.2V342.4M167.6,316.8V341.3M168.5,316.7V341.2M183.6,315.9V339.9M184.8,315.8V339.7M189.7,315.7V339.3M198.8,315.6V338.6M205.6,315.5V338.0M206.5,315.5V337.9M209.6,315.4V337.6M211.1,315.4V337.5M214.1,315.4V337.2M215.6,315.4V337.0M223.1,315.3V336.3M224.6,315.2V336.2M227.7,315.2V335.9M229.5,315.2V335.7M231.2,315.1V335.6M237.5,315.0V335.0M247.0,314.6V333.9M249.9,314.4V333.5M259.7,314.4V332.9M262.5,314.4V332.7M268.9,314.4V332.3M271.7,314.4V332.1M274.5,314.4V331.9M301.3,314.4V329.9M304.0,314.4V329.7M314.6,314.2V328.9M317.5,314.2V328.7M319.6,314.1V328.6M326.3,314.0V328.1M351.9,314.1V326.8M358.0,314.2V326.5M360.8,314.3V326.3M363.6,314.5V326.2M453.0,319.7V320.5M461.0,319.8V320.4M485.0,319.8V320.3M486.4,319.8V320.3M487.8,319.8V320.3M489.1,319.8V320.3M490.5,319.9V320.3M491.9,319.9V320.3M493.3,319.9V320.3M494.6,319.9V320.3M496.0,319.9V320.2M497.4,319.9V320.2M498.8,319.9V320.2M500.1,319.9V320.2M501.5,319.9V320.2M502.9,319.9V320.2M504.3,319.9V320.2M505.7,319.9V320.2M507.0,319.9V320.2M508.4,319.9V320.2M509.8,319.9V320.2M511.2,319.9V320.2M512.5,319.9V320.2M513.9,319.9V320.2M515.3,319.9V320.1M516.7,319.9V320.1M518.0,319.9V320.1M519.4,320.0V320.1M520.8,320.0V320.1M522.2,320.0V320.1M523.6,320.0V320.1M524.9,320.0V320.1M526.3,320.0V320.1M527.7,320.0V320.1M529.1,320.0V320.1M530.4,320.0V320.1M531.8,320.0V320.1M533.2,320.0V320.1M534.6,320.0V320.0M535.9,320.0V320.0M537.3,320.0V320.0M538.7,320.0V320.0" stroke-width="1.3"/>
<path d="M94.6,319.5h5.8M94.6,347.6h5.8M96.1,319.4h5.8M96.1,347.5h5.8M102.0,319.2h5.8M102.0,347.1h5.8M105.1,319.1h5.8M105.1,346.9h5.8M107.0,319.1h5.8M107.0,346.8h5.8M112.7,318.9h5.8M112.7,346.5h5.8M118.6,318.7h5.8M118.6,346.1h5.8M132.1,318.1h5.8M132.1,344.7h5.8M134.1,318.1h5.8M134.1,344.5h5.8M136.3,318.0h5.8M136.3,344.3h5.8M138.4,317.9h5.8M138.4,344.0h5.8M140.5,317.8h5.8M140.5,343.8h5.8M143.3,317.7h5.8M143.3,343.5h5.8M149.7,317.4h5.8M149.7,342.9h5.8M154.6,317.2h5.8M154.6,342.4h5.8M164.7,316.8h5.8M164.7,341.3h5.8M165.6,316.7h5.8M165.6,341.2h5.8M180.7,315.9h5.8M180.7,339.9h5.8M181.9,315.8h5.8M181.9,339.7h5.8M186.8,315.7h5.8M186.8,339.3h5.8M195.9,315.6h5.8M195.9,338.6h5.8M202.7,315.5h5.8M202.7,338.0h5.8M203.6,315.5h5.8M203.6,337.9h5.8M206.7,315.4h5.8M206.7,337.6h5.8M208.2,315.4h5.8M208.2,337.5h5.8M211.2,315.4h5.8M211.2,337.2h5.8M212.7,315.4h5.8M212.7,337.0h5.8M220.2,315.3h5.8M220.2,336.3h5.8M221.7,315.2h5.8M221.7,336.2h5.8M224.8,315.2h5.8M224.8,335.9h5.8M226.6,315.2h5.8M226.6,335.7h5.8M228.3,315.1h5.8M228.3,335.6h5.8M234.6,315.0h5.8M234.6,335.0h5.8M244.1,314.6h5.8M244.1,333.9h5.8M247.0,314.4h5.8M247.0,333.5h5.8M256.8,314.4h5.8M256.8,332.9h5.8M259.6,314.4h5.8M259.6,332.7h5.8M266.0,314.4h5.8M266.0,332.3h5.8M268.8,314.4h5.8M268.8,332.1h5.8M271.6,314.4h5.8M271.6,331.9h5.8M298.4,314.4h5.8M298.4,329.9h5.8M301.1,314.4h5.8M301.1,329.7h5.8M311.7,314.2h5.8M311.7,328.9h5.8M314.6,314.2h5.8M314.6,328.7h5.8M316.7,314.1h5.8M316.7,328.6h5.8M323.4,314.0h5.8M323.4,328.1h5.8M349.0,314.1h5.8M349.0,326.8h5.8M355.1,314.2h5.8M355.1,326.5h5.8M357.9,314.3h5.8M357.9,326.3h5.8M360.7,314.5h5.8M360.7,326.2h5.8M450.1,319.7h5.8M450.1,320.5h5.8M458.1,319.8h5.8M458.1,320.4h5.8M482.1,319.8h5.8M482.1,320.3h5.8M483.5,319.8h5.8M483.5,320.3h5.8M484.9,319.8h5.8M484.9,320.3h5.8M486.2,319.8h5.8M486.2,320.3h5.8M487.6,319.9h5.8M487.6,320.3h5.8M489.0,319.9h5.8M489.0,320.3h5.8M490.4,319.9h5.8M490.4,320.3h5.8M491.7,319.9h5.8M491.7,320.3h5.8M493.1,319.9h5.8M493.1,320.2h5.8M494.5,319.9h5.8M494.5,320.2h5.8M495.9,319.9h5.8M495.9,320.2h5.8M497.2,319.9h5.8M497.2,320.2h5.8M498.6,319.9h5.8M498.6,320.2h5.8M500.0,319.9h5.8M500.0,320.2h5.8M501.4,319.9h5.8M501.4,320.2h5.8M502.8,319.9h5.8M502.8,320.2h5.8M504.1,319.9h5.8M504.1,320.2h5.8M505.5,319.9h5.8M505.5,320.2h5.8M506.9,319.9h5.8M506.9,320.2h5.8M508.3,319.9h5.8M508.3,320.2h5.8M509.6,319.9h5.8M509.6,320.2h5.8M511.0,319.9h5.8M511.0,320.2h5.8M512.4,319.9h5.8M512.4,320.1h5.8M513.8,319.9h5.8M513.8,320.1h5.8M515.1,319.9h5.8M515.1,320.1h5.8M516.5,320.0h5.8M516.5,320.1h5.8M517.9,320.0h5.8M517.9,320.1h5.8M519.3,320.0h5.8M519.3,320.1h5.8M520.7,320.0h5.8M520.7,320.1h5.8M522.0,320.0h5.8M522.0,320.1h5.8M523.4,320.0h5.8M523.4,320.1h5.8M524.8,320.0h5.8M524.8,320.1h5.8M526.2,320.0h5.8M526.2,320.1h5.8M527.5,320.0h5.8M527.5,320.1h5.8M528.9,320.0h5.8M528.9,320.1h5.8M530.3,320.0h5.8M530.3,320.1h5.8M531.7,320.0h5.8M531.7,320.0h5.8M533.0,320.0h5.8M533.0,320.0h5.8M534.4,320.0h5.8M534.4,320.0h5.8M535.8,320.0h5.8M535.8,320.0h5.8" stroke-width="1.1"/>
<path d="M95.1,331.1h4.8v4.8h-4.8zM96.6,331.0h4.8v4.8h-4.8zM102.5,330.8h4.8v4.8h-4.8zM105.6,330.6h4.8v4.8h-4.8zM107.5,330.5h4.8v4.8h-4.8zM113.2,330.3h4.8v4.8h-4.8zM119.1,330.0h4.8v4.8h-4.8zM132.6,329.0h4.8v4.8h-4.8zM134.6,328.9h4.8v4.8h-4.8zM136.8,328.7h4.8v4.8h-4.8zM138.9,328.6h4.8v4.8h-4.8zM141.0,328.4h4.8v4.8h-4.8zM143.8,328.2h4.8v4.8h-4.8zM150.2,327.7h4.8v4.8h-4.8zM155.1,327.4h4.8v4.8h-4.8zM165.2,326.6h4.8v4.8h-4.8zM166.1,326.6h4.8v4.8h-4.8zM181.2,325.5h4.8v4.8h-4.8zM182.4,325.4h4.8v4.8h-4.8zM187.3,325.1h4.8v4.8h-4.8zM196.4,324.7h4.8v4.8h-4.8zM203.2,324.3h4.8v4.8h-4.8zM204.1,324.3h4.8v4.8h-4.8zM207.2,324.1h4.8v4.8h-4.8zM208.7,324.0h4.8v4.8h-4.8zM211.7,323.9h4.8v4.8h-4.8zM213.2,323.8h4.8v4.8h-4.8zM220.7,323.4h4.8v4.8h-4.8zM222.2,323.3h4.8v4.8h-4.8zM225.3,323.1h4.8v4.8h-4.8zM227.1,323.0h4.8v4.8h-4.8zM228.8,323.0h4.8v4.8h-4.8zM235.1,322.6h4.8v4.8h-4.8zM244.6,321.8h4.8v4.8h-4.8zM247.5,321.6h4.8v4.8h-4.8zM257.3,321.3h4.8v4.8h-4.8zM260.1,321.2h4.8v4.8h-4.8zM266.5,321.0h4.8v4.8h-4.8zM269.3,320.9h4.8v4.8h-4.8zM272.1,320.8h4.8v4.8h-4.8zM298.9,319.8h4.8v4.8h-4.8zM301.6,319.7h4.8v4.8h-4.8zM312.2,319.2h4.8v4.8h-4.8zM315.1,319.0h4.8v4.8h-4.8zM317.2,318.9h4.8v4.8h-4.8zM323.9,318.6h4.8v4.8h-4.8zM349.5,318.0h4.8v4.8h-4.8zM355.6,318.0h4.8v4.8h-4.8zM358.4,317.9h4.8v4.8h-4.8zM361.2,317.9h4.8v4.8h-4.8zM450.6,317.7h4.8v4.8h-4.8zM458.6,317.7h4.8v4.8h-4.8zM482.6,317.7h4.8v4.8h-4.8zM484.0,317.7h4.8v4.8h-4.8zM485.4,317.7h4.8v4.8h-4.8zM486.7,317.7h4.8v4.8h-4.8zM488.1,317.7h4.8v4.8h-4.8zM489.5,317.7h4.8v4.8h-4.8zM490.9,317.7h4.8v4.8h-4.8zM492.2,317.7h4.8v4.8h-4.8zM493.6,317.7h4.8v4.8h-4.8zM495.0,317.7h4.8v4.8h-4.8zM496.4,317.7h4.8v4.8h-4.8zM497.7,317.7h4.8v4.8h-4.8zM499.1,317.7h4.8v4.8h-4.8zM500.5,317.7h4.8v4.8h-4.8zM501.9,317.7h4.8v4.8h-4.8zM503.3,317.7h4.8v4.8h-4.8zM504.6,317.7h4.8v4.8h-4.8zM506.0,317.6h4.8v4.8h-4.8zM507.4,317.6h4.8v4.8h-4.8zM508.8,317.6h4.8v4.8h-4.8zM510.1,317.6h4.8v4.8h-4.8zM511.5,317.6h4.8v4.8h-4.8zM512.9,317.6h4.8v4.8h-4.8zM514.3,317.6h4.8v4.8h-4.8zM515.6,317.6h4.8v4.8h-4.8zM517.0,317.6h4.8v4.8h-4.8zM518.4,317.6h4.8v4.8h-4.8zM519.8,317.6h4.8v4.8h-4.8zM521.2,317.6h4.8v4.8h-4.8zM522.5,317.6h4.8v4.8h-4.8zM523.9,317.6h4.8v4.8h-4.8zM525.3,317.6h4.8v4.8h-4.8zM526.7,317.6h4.8v4.8h-4.8zM528.0,317.6h4.8v4.8h-4.8zM529.4,317.6h4.8v4.8h-4.8zM530.8,317.6h4.8v4.8h-4.8zM532.2,317.6h4.8v4.8h-4.8zM533.5,317.6h4.8v4.8h-4.8zM534.9,317.6h4.8v4.8h-4.8zM536.3,317.6h4.8v4.8h-4.8z" stroke-width="1.1"/>
<g stroke="none" fill="#0000ff" fill-opacity="0.3"><rect x="95.1" y="331.1" width="4.8" height="4.8"/><rect x="96.6" y="331.0" width="4.8" height="4.8"/><rect x="102.5" y="330.8" width="4.8" height="4.8"/><rect x="105.6" y="330.6" width="4.8" height="4.8"/><rect x="107.5" y="330.5" width="4.8" height="4.8"/><rect x="113.2" y="330.3" width="4.8" height="4.8"/><rect x="119.1" y="330.0" width="4.8" height="4.8"/><rect x="132.6" y="329.0" width="4.8" height="4.8"/><rect x="134.6" y="328.9" width="4.8" height="4.8"/><rect x="136.8" y="328.7" width="4.8" height="4.8"/><rect x="138.9" y="328.6" width="4.8" height="4.8"/><rect x="141.0" y="328.4" width="4.8" height="4.8"/><rect x="143.8" y="328.2" width="4.8" height="4.8"/><rect x="150.2" y="327.7" width="4.8" height="4.8"/><rect x="155.1" y="327.4" width="4.8" height="4.8"/><rect x="165.2" y="326.6" width="4.8" height="4.8"/><rect x="166.1" y="326.6" width="4.8" height="4.8"/><rect x="181.2" y="325.5" width="4.8" height="4.8"/><rect x="182.4" y="325.4" width="4.8" height="4.8"/><rect x="187.3" y="325.1" width="4.8" height="4.8"/><rect x="196.4" y="324.7" width="4.8" height="4.8"/><rect x="203.2" y="324.3" width="4.8" height="4.8"/><rect x="204.1" y="324.3" width="4.8" height="4.8"/><rect x="207.2" y="324.1" width="4.8" height="4.8"/><rect x="208.7" y="324.0" width="4.8" height="4.8"/><rect x="211.7" y="323.9" width="4.8" height="4.8"/><rect x="213.2" y="323.8" width="4.8" height="4.8"/><rect x="220.7" y="323.4" width="4.8" height="4.8"/><rect x="222.2" y="323.3" width="4.8" height="4.8"/><rect x="225.3" y="323.1" width="4.8" height="4.8"/><rect x="227.1" y="323.0" width="4.8" height="4.8"/><rect x="228.8" y="323.0" width="4.8" height="4.8"/><rect x="235.1" y="322.6" width="4.8" height="4.8"/><rect x="244.6" y="321.8" width="4.8" height="4.8"/><rect x="247.5" y="321.6" width="4.8" height="4.8"/><rect x="257.3" y="321.3" width="4.8" height="4.8"/><rect x="260.1" y="321.2" width="4.8" height="4.8"/><rect x="266.5" y="321.0" width="4.8" height="4.8"/><rect x="269.3" y="320.9" width="4.8" height="4.8"/><rect x="272.1" y="320.8" width="4.8" height="4.8"/><rect x="298.9" y="319.8" width="4.8" height="4.8"/><rect x="301.6" y="319.7" width="4.8" height="4.8"/><rect x="312.2" y="319.2" width="4.8" height="4.8"/><rect x="315.1" y="319.0" width="4.8" height="4.8"/><rect x="317.2" y="318.9" width="4.8" height="4.8"/><rect x="323.9" y="318.6" width="4.8" height="4.8"/><rect x="349.5" y="318.0" width="4.8" height="4.8"/><rect x="355.6" y="318.0" width="4.8" height="4.8"/><rect x="358.4" y="317.9" width="4.8" height="4.8"/><rect x="361.2" y="317.9" width="4.8" height="4.8"/><rect x="450.6" y="317.7" width="4.8" height="4.8"/><rect x="458.6" y="317.7" width="4.8" height="4.8"/><rect x="482.6" y="317.7" width="4.8" height="4.8"/><rect x="484.0" y="317.7" width="4.8" height="4.8"/><rect x="485.4" y="317.7" width="4.8" height="4.8"/><rect x="486.7" y="317.7" width="4.8" height="4.8"/><rect x="488.1" y="317.7" width="4.8" height="4.8"/><rect x="489.5" y="317.7" width="4.8" height="4.8"/><rect x="490.9" y="317.7" width="4.8" height="4.8"/><rect x="492.2" y="317.7" width="4.8" height="4.8"/><rect x="493.6" y="317.7" width="4.8" height="4.8"/><rect x="495.0" y="317.7" width="4.8" height="4.8"/><rect x="496.4" y="317.7" width="4.8" height="4.8"/><rect x="497.7" y="317.7" width="4.8" height="4.8"/><rect x="499.1" y="317.7" width="4.8" height="4.8"/><rect x="500.5" y="317.7" width="4.8" height="4.8"/><rect x="501.9" y="317.7" width="4.8" height="4.8"/><rect x="503.3" y="317.7" width="4.8" height="4.8"/><rect x="504.6" y="317.7" width="4.8" height="4.8"/><rect x="506.0" y="317.6" width="4.8" height="4.8"/><rect x="507.4" y="317.6" width="4.8" height="4.8"/><rect x="508.8" y="317.6" width="4.8" height="4.8"/><rect x="510.1" y="317.6" width="4.8" height="4.8"/><rect x="511.5" y="317.6" width="4.8" height="4.8"/><rect x="512.9" y="317.6" width="4.8" height="4.8"/><rect x="514.3" y="317.6" width="4.8" height="4.8"/><rect x="515.6" y="317.6" width="4.8" height="4.8"/><rect x="517.0" y="317.6" width="4.8" height="4.8"/><rect x="518.4" y="317.6" width="4.8" height="4.8"/><rect x="519.8" y="317.6" width="4.8" height="4.8"/><rect x="521.2" y="317.6" width="4.8" height="4.8"/><rect x="522.5" y="317.6" width="4.8" height="4.8"/><rect x="523.9" y="317.6" width="4.8" height="4.8"/><rect x="525.3" y="317.6" width="4.8" height="4.8"/><rect x="526.7" y="317.6" width="4.8" height="4.8"/><rect x="528.0" y="317.6" width="4.8" height="4.8"/><rect x="529.4" y="317.6" width="4.8" height="4.8"/><rect x="530.8" y="317.6" width="4.8" height="4.8"/><rect x="532.2" y="317.6" width="4.8" height="4.8"/><rect x="533.5" y="317.6" width="4.8" height="4.8"/><rect x="534.9" y="317.6" width="4.8" height="4.8"/><rect x="536.3" y="317.6" width="4.8" height="4.8"/></g>
<path d="M450.6,317.7H453.3V322.5H450.6zM460.3,317.7H463.4V322.5H460.3z" stroke-width="1" fill="#0000ff" fill-opacity="0.35"/>
</g>
<path d="M495.6,318.1h0.9v1h-0.9zM495.6,321.1h0.9v1h-0.9zM499.2,318.1h0.9v1h-0.9zM499.2,321.1h0.9v1h-0.9zM502.2,318.1h0.9v1h-0.9zM502.2,321.1h0.9v1h-0.9zM503.2,318.1h0.9v1h-0.9zM503.2,321.1h0.9v1h-0.9zM506.2,318.1h0.9v1h-0.9zM506.2,321.1h0.9v1h-0.9zM518.8,318.0h0.9v1h-0.9zM518.8,321.0h0.9v1h-0.9zM533.2,318.0h0.9v1h-0.9zM533.2,321.0h0.9v1h-0.9zM538.0,318.0h0.9v1h-0.9zM538.0,321.0h0.9v1h-0.9z" fill="#ff8a70" fill-opacity="0.85"/>
<path d="M483.5,320.0H539" stroke="#000" stroke-width="3" stroke-opacity="0.4"/>
<path d="M94.5,319.9H539.5" stroke="#000" stroke-width="1.4"/>
<!-- frames -->
<g stroke="#000" stroke-width="1" fill="none">
<rect x="94.5" y="47.5" width="445.0" height="210.95"/>
<rect x="94.5" y="258.45" width="445.0" height="91.90000000000003"/>
</g>
<!-- legend -->
<rect x="478" y="56" width="43" height="8" fill="#ff8080"/>
<g stroke="#0000ff" fill="none"><path d="M478,76H521" stroke-width="1"/><path d="M478.5,73.3v5.4M520.5,73.3v5.4" stroke-width="1"/><rect x="496.6" y="73.65" width="4.9" height="4.75" stroke-width="1"/></g>
<path d="M478,91.8H521" stroke="#000" stroke-width="1.35"/>
<g fill="none" stroke="#0a0a0a" stroke-width="0.95" stroke-linecap="round" stroke-linejoin="round">
<g transform="translate(85.20,233.21)"><use href="#g55" x="-18.67"/><use href="#g48" x="-9.22"/></g><g transform="translate(85.20,203.08)"><use href="#g56" x="-18.67"/><use href="#g48" x="-9.22"/></g><g transform="translate(85.20,172.94)"><use href="#g57" x="-18.67"/><use href="#g48" x="-9.22"/></g><g transform="translate(85.20,142.81)"><use href="#g49" x="-28.12"/><use href="#g48" x="-18.67"/><use href="#g48" x="-9.22"/></g><g transform="translate(85.20,112.67)"><use href="#g49" x="-28.12"/><use href="#g49" x="-18.67"/><use href="#g48" x="-9.22"/></g><g transform="translate(85.20,82.54)"><use href="#g49" x="-28.12"/><use href="#g50" x="-18.67"/><use href="#g48" x="-9.22"/></g><g transform="translate(85.20,52.40)"><use href="#g49" x="-28.12"/><use href="#g51" x="-18.67"/><use href="#g48" x="-9.22"/></g><g transform="translate(85.20,355.25)"><use href="#g45" x="-18.67"/><use href="#g52" x="-9.22"/></g><g transform="translate(85.20,339.93)"><use href="#g45" x="-18.67"/><use href="#g50" x="-9.22"/></g><g transform="translate(85.20,324.62)"><use href="#g48" x="-9.22"/></g><g transform="translate(85.20,309.30)"><use href="#g50" x="-9.22"/></g><g transform="translate(85.20,293.98)"><use href="#g52" x="-9.22"/></g><g transform="translate(85.20,278.67)"><use href="#g54" x="-9.22"/></g><g transform="translate(85.20,263.35)"><use href="#g56" x="-9.22"/></g><g transform="translate(99.35,371.30)"><use href="#g48" x="-13.95"/><use href="#g46" x="-4.50"/><use href="#g53" x="4.95"/></g><g transform="translate(188.35,371.30)"><use href="#g48" x="-13.95"/><use href="#g46" x="-4.50"/><use href="#g54" x="4.95"/></g><g transform="translate(277.35,371.30)"><use href="#g48" x="-13.95"/><use href="#g46" x="-4.50"/><use href="#g55" x="4.95"/></g><g transform="translate(366.35,371.30)"><use href="#g48" x="-13.95"/><use href="#g46" x="-4.50"/><use href="#g56" x="4.95"/></g><g transform="translate(455.35,371.30)"><use href="#g48" x="-13.95"/><use href="#g46" x="-4.50"/><use href="#g57" x="4.95"/></g><g transform="translate(544.35,371.30)"><use href="#g49" x="-4.50"/></g><g transform="translate(468.20,65.20)"><use href="#g77" x="-132.07"/><use href="#g66" x="-122.62"/><use href="#g48" x="-113.17"/><use href="#g56" x="-103.72"/><use href="#g45" x="-84.82"/><use href="#g51" x="-65.92"/><use href="#g99" x="-47.02"/><use href="#g111" x="-37.57"/><use href="#g101" x="-28.12"/><use href="#g102" x="-18.67"/><use href="#g102" x="-9.22"/></g><g transform="translate(468.20,81.00)"><use href="#g80" x="-122.62"/><use href="#g67" x="-113.17"/><use href="#g65" x="-103.72"/><use href="#g45" x="-84.83"/><use href="#g49" x="-65.93"/><use href="#g99" x="-47.02"/><use href="#g111" x="-37.57"/><use href="#g101" x="-28.12"/><use href="#g102" x="-18.68"/><use href="#g102" x="-9.23"/></g><g transform="translate(468.20,97.30)"><use href="#g76" x="-94.28"/><use href="#g67" x="-84.83"/><use href="#g68" x="-75.38"/><use href="#g77" x="-65.93"/><use href="#g109" x="-47.02"/><use href="#g111" x="-37.58"/><use href="#g100" x="-28.13"/><use href="#g101" x="-18.68"/><use href="#g108" x="-9.23"/></g><g transform="translate(35.00,152.50) rotate(-90)"><use href="#g72" x="-18.67"/><use href="#g40" x="-9.22"/><use href="#g97" x="0.22"/><use href="#g41" x="9.67"/></g><g transform="translate(53.80,304.00) rotate(-90)"><use href="#g37" x="-32.85"/><use href="#g101" x="-13.95"/><use href="#g114" x="-4.50"/><use href="#g114" x="4.95"/><use href="#g111" x="14.40"/><use href="#g114" x="23.85"/></g><g transform="translate(316.90,395.00)"><use href="#g97" x="-4.50"/></g>
</g>
</svg>
</body></html>
